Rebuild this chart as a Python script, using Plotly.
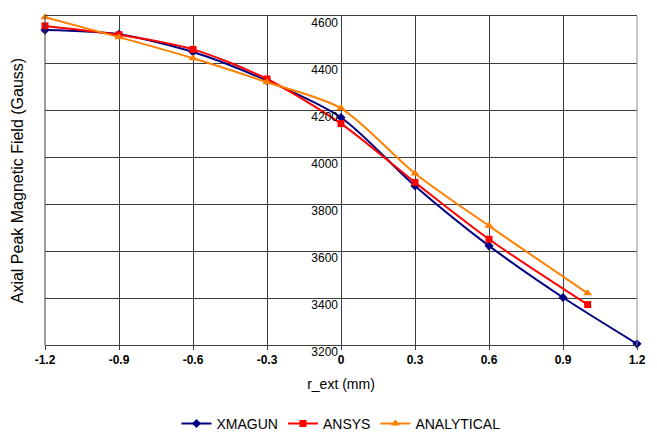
import plotly.graph_objects as go

# data
x_xmagun = [-1.2, -0.9, -0.6, -0.3, 0.0, 0.3, 0.6, 0.9, 1.2]
xmagun = [4540, 4522, 4447, 4325, 4168, 3877, 3622, 3402, 3205]
x_other = [-1.2, -0.9, -0.6, -0.3, 0.0, 0.3, 0.6, 1.0]
ansys = [4558, 4520, 4458, 4332, 4142, 3892, 3650, 3372]
analytical = [4595, 4510, 4420, 4318, 4207, 3930, 3707, 3420]
x_ticks = [-1.2, -0.9, -0.6, -0.3, 0, 0.3, 0.6, 0.9, 1.2]
x_ticklabels = ["-1.2", "-0.9", "-0.6", "-0.3", "0", "0.3", "0.6", "0.9", "1.2"]
y_ticks = [3200, 3400, 3600, 3800, 4000, 4200, 4400, 4600]

fig = go.Figure()
fig.add_trace(go.Scatter(x=x_xmagun, y=xmagun, name="XMAGUN", mode="lines+markers",
                         line=dict(color="#000080", width=2, shape="spline", smoothing=0.8),
                         marker=dict(symbol="diamond", size=7, color="#000080"),
                         cliponaxis=False))
fig.add_trace(go.Scatter(x=x_other, y=ansys, name="ANSYS", mode="lines+markers",
                         line=dict(color="#FF0000", width=2, shape="spline", smoothing=0.8),
                         marker=dict(symbol="square", size=7, color="#FF0000"),
                         cliponaxis=False))
fig.add_trace(go.Scatter(x=x_other, y=analytical, name="ANALYTICAL", mode="lines+markers",
                         line=dict(color="#FF8000", width=2, shape="spline", smoothing=0.8),
                         marker=dict(symbol="triangle-up", size=8, color="#FF8000"),
                         cliponaxis=False))

grid = "#3c3c3c"
# page body has an 8px default margin; figure offset compensated in margins
fig.update_layout(
    width=641, height=428,
    margin=dict(l=37, r=12, t=8, b=91, autoexpand=False),
    paper_bgcolor="white", plot_bgcolor="white",
    font=dict(family="Arial, Liberation Sans, sans-serif", color="black"),
    showlegend=True,
    legend=dict(orientation="h", x=0.5, xanchor="center", y=-0.24, yanchor="middle",
                font=dict(size=14, family="Arial, Liberation Sans"),
                itemwidth=30, tracegroupgap=0),
    xaxis=dict(range=[-1.2, 1.2], tickvals=x_ticks, ticktext=x_ticklabels,
               automargin=False,
               showgrid=True, gridcolor=grid, gridwidth=1,
               zeroline=True, zerolinecolor=grid, zerolinewidth=1,
               showline=True, linecolor=grid, linewidth=1, mirror=True,
               ticks="outside", ticklen=4, tickcolor=grid,
               tickfont=dict(size=12, family="Arial, Liberation Sans", weight="bold"),
               title=dict(text="r_ext (mm)", standoff=12,
                          font=dict(size=14, family="Arial, Liberation Sans"))),
    yaxis=dict(range=[3200, 4600], tickvals=y_ticks,
               automargin=False,
               anchor="free", position=0.5,
               showgrid=True, gridcolor=grid, gridwidth=1,
               zeroline=False, showline=False,
               ticks="", ticklabelshift=7, ticklabelstandoff=3,
               tickfont=dict(size=12, family="Arial, Liberation Sans", weight="normal")),
)
fig.add_shape(type="line", xref="paper", yref="paper", x0=0, x1=0, y0=0, y1=1,
              line=dict(color=grid, width=1))
fig.add_shape(type="line", xref="paper", yref="paper", x0=1, x1=1, y0=0, y1=1,
              line=dict(color="#909090", width=1))
fig.add_annotation(text="Axial Peak Magnetic Field (Gauss)", textangle=-90,
                   xref="paper", yref="paper", x=-0.046, y=0.5,
                   xanchor="center", yanchor="middle", showarrow=False,
                   font=dict(size=16, family="Arial, Liberation Sans"))
fig.write_html("out.html")
